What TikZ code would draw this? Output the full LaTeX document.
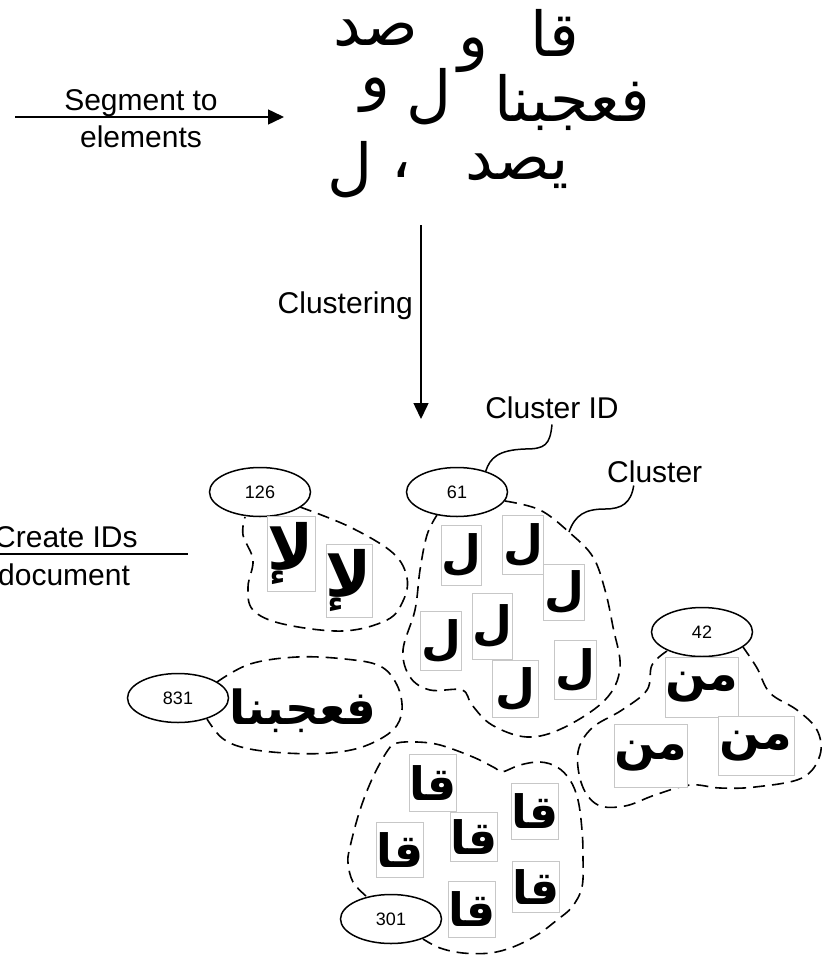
\documentclass[tikz,border=0pt]{standalone}
\usepackage{fontspec}
\setmainfont{Liberation Sans}
\newfontfamily\arabicfont[Script=Arabic]{DejaVu Sans}
\TeXXeTstate=1
\usetikzlibrary{positioning, shapes.geometric, arrows.meta, calc}

\begin{document}
\begin{tikzpicture}[x=1pt, y=-1pt,
  lbl/.style={font=\fontsize{30}{34}\selectfont, inner sep=0pt},
  idoval/.style={draw, ellipse, line width=1.5pt, minimum width=101pt, minimum height=49pt,
    inner sep=0pt, font=\fontsize{18}{20}\selectfont},
  elem/.style={font=\arabicfont\fontsize{#1}{#1}\selectfont, inner sep=0pt},
  glyphbox/.style 2 args={draw=black!22, line width=0.8pt, fill=white, minimum width=#1pt,
    minimum height=#2pt, inner sep=0pt, font=\arabicfont\bfseries\fontsize{46}{46}\selectfont},
  gsize/.style={font=\arabicfont\bfseries\fontsize{#1}{#1}\selectfont},
  blob/.style={line width=1.6pt, dash pattern=on 12pt off 7pt},
  leader/.style={line width=1.5pt},
  flow/.style={line width=1.5pt, -{Triangle[length=16pt, width=15pt]}}
]
\useasboundingbox (0,0) rectangle (823,966);

% Segmentation step
\coordinate (segfrom) at (15,117);
\coordinate (segto) at (284,117);
\draw[flow] (segfrom) -- (segto);
\node[lbl, anchor=base] (seglbla) at (141,110) {Segment to};
\node[lbl, anchor=base] (seglblb) at (141,147) {elements};

% Segmented elements
\node[elem=62] (ela) at (376,33) {\beginR صد\endR};
\node[elem=62] (elb) at (473,55) {\beginR و\endR};
\node[elem=62] (elc) at (555,33) {\beginR قا\endR};
\node[elem=62] (eld) at (375,95) {\beginR و\endR};
\node[elem=62] (ele) at (429,97) {\beginR ل\endR};
\node[elem=62] (elf) at (572,102) {\beginR فعجبنا\endR};
\node[elem=62] (elg) at (350,170) {\beginR ل\endR};
\node[elem=62] (elh) at (402,170) {\beginR ،\endR};
\node[elem=62] (eli) at (517,171) {\beginR يصد\endR};

% Clustering step
\coordinate (clfrom) at (421,225);
\coordinate (clto) at (421,419);
\draw[flow] (clfrom) -- (clto);
\node[lbl, anchor=base east] (cllbl) at (413,313) {Clustering};

% ID step (cut at left edge)
\coordinate (idfrom) at (-10,554);
\coordinate (idto) at (188,554);
\draw[line width=1.5pt] (idfrom) -- (idto);
\node[lbl, anchor=base west] (idlbla) at (-6,547) {Create IDs};
\node[lbl, anchor=base west] (idlblb) at (-2,585) {document};

% Cluster IDs
\node[idoval] (id126) at (260,492) {126};
\node[idoval] (id61) at (457,492) {61};
\node[idoval] (id831) at (178,698) {831};
\node[idoval] (id42) at (702,632) {42};
\node[idoval] (id301) at (391,919) {301};

% Cluster 126
\draw[blob] plot[smooth, tension=0.6] coordinates {(300,507) (350,527) (393,553) (407,578)
  (403,601) (387,620) (343,631) (283,624) (253,610) (248,587) (253,560) (243,535) (245,517)};
\node[glyphbox={48}{75}, gsize=62] (la1) at (291,554) {\beginR لإ\endR};
\node[glyphbox={43}{73}, gsize=62] (la2) at (349,581) {\beginR لإ\endR};

% Cluster 61
\draw[blob] plot[smooth, tension=0.6] coordinates {(505,501) (540,510) (570,533) (593,557)
  (605,590) (613,627) (620,668) (605,700) (563,728) (527,737) (492,725) (472,705) (462,690)
  (430,690) (410,677) (403,650) (415,610) (420,570) (427,535) (437,515)};
\node[glyphbox={39}{60}] (lam1) at (461,555) {\beginR ل\endR};
\node[glyphbox={41}{59}] (lam2) at (523,545) {\beginR ل\endR};
\node[glyphbox={41}{56}] (lam3) at (564,592) {\beginR ل\endR};
\node[glyphbox={40}{66}] (lam4) at (492,626) {\beginR ل\endR};
\node[glyphbox={41}{59}] (lam5) at (441,641) {\beginR ل\endR};
\node[glyphbox={46}{57}] (lam6) at (515,689) {\beginR ل\endR};
\node[glyphbox={42}{59}] (lam7) at (575,670) {\beginR ل\endR};

% Cluster 831
\draw[blob] plot[smooth, tension=0.6] coordinates {(217,682) (250,664) (297,657) (345,659)
  (380,666) (397,685) (402,710) (393,730) (365,746) (330,753) (285,753) (245,748) (222,738)
  (207,719)};
\node[inner sep=0pt, gsize=47] (word) at (303,711) {\beginR فعجبنا\endR};

% Cluster 42
\draw[blob] plot[smooth, tension=0.6] coordinates {(667,651) (652,665) (647,690) (622,710)
  (592,728) (578,752) (582,785) (598,805) (625,806) (655,795) (690,785) (720,788) (755,787)
  (802,778) (820,755) (817,730) (797,710) (770,693) (757,668) (743,647)};
\node[glyphbox={71}{60}, gsize=48] (min1) at (702,687) {\beginR من\endR};
\node[glyphbox={76}{59}, gsize=48] (min2) at (756,746) {\beginR من\endR};
\node[glyphbox={72}{63}, gsize=48] (min3) at (651,756) {\beginR من\endR};

% Cluster 301
\draw[blob] plot[smooth, tension=0.6] coordinates {(366,896) (353,882) (348,863) (350,847)
  (360,810) (373,777) (388,750) (397,743) (417,742) (440,745) (473,757) (495,768) (502,772)
  (520,765) (540,762) (557,767) (570,780) (578,800) (582,830) (583,857) (582,887) (572,907)
  (557,920) (537,935) (513,947) (490,953) (463,953) (440,948) (423,939)};
\node[glyphbox={46}{57}] (qa1) at (433,783) {\beginR قا\endR};
\node[glyphbox={45}{56}] (qa2) at (535,811) {\beginR قا\endR};
\node[glyphbox={44}{49}] (qa3) at (474,837) {\beginR قا\endR};
\node[glyphbox={42}{55}] (qa4) at (400,850) {\beginR قا\endR};
\node[glyphbox={47}{51}] (qa5) at (536,887) {\beginR قا\endR};
\node[glyphbox={40}{56}] (qa6) at (472,909) {\beginR قا\endR};

% Leaders
\node[lbl, anchor=base] (cidlbl) at (552,418) {Cluster ID};
\draw[leader] ([yshift=-6pt]cidlbl.south) .. controls (550,445) and (545,449) .. (525,449)
  .. controls (498,450) and (490,458) .. (id61.36);
\node[lbl, anchor=base west] (clulbl) at (607,482) {Cluster};
\coordinate (cluedge) at (569,532);
\draw[leader] ([xshift=-21pt, yshift=-3pt]clulbl.south) .. controls (631,503) and (622,509)
  .. (605,509) .. controls (585,509) and (575,515) .. (cluedge);

\end{tikzpicture}
\end{document}
